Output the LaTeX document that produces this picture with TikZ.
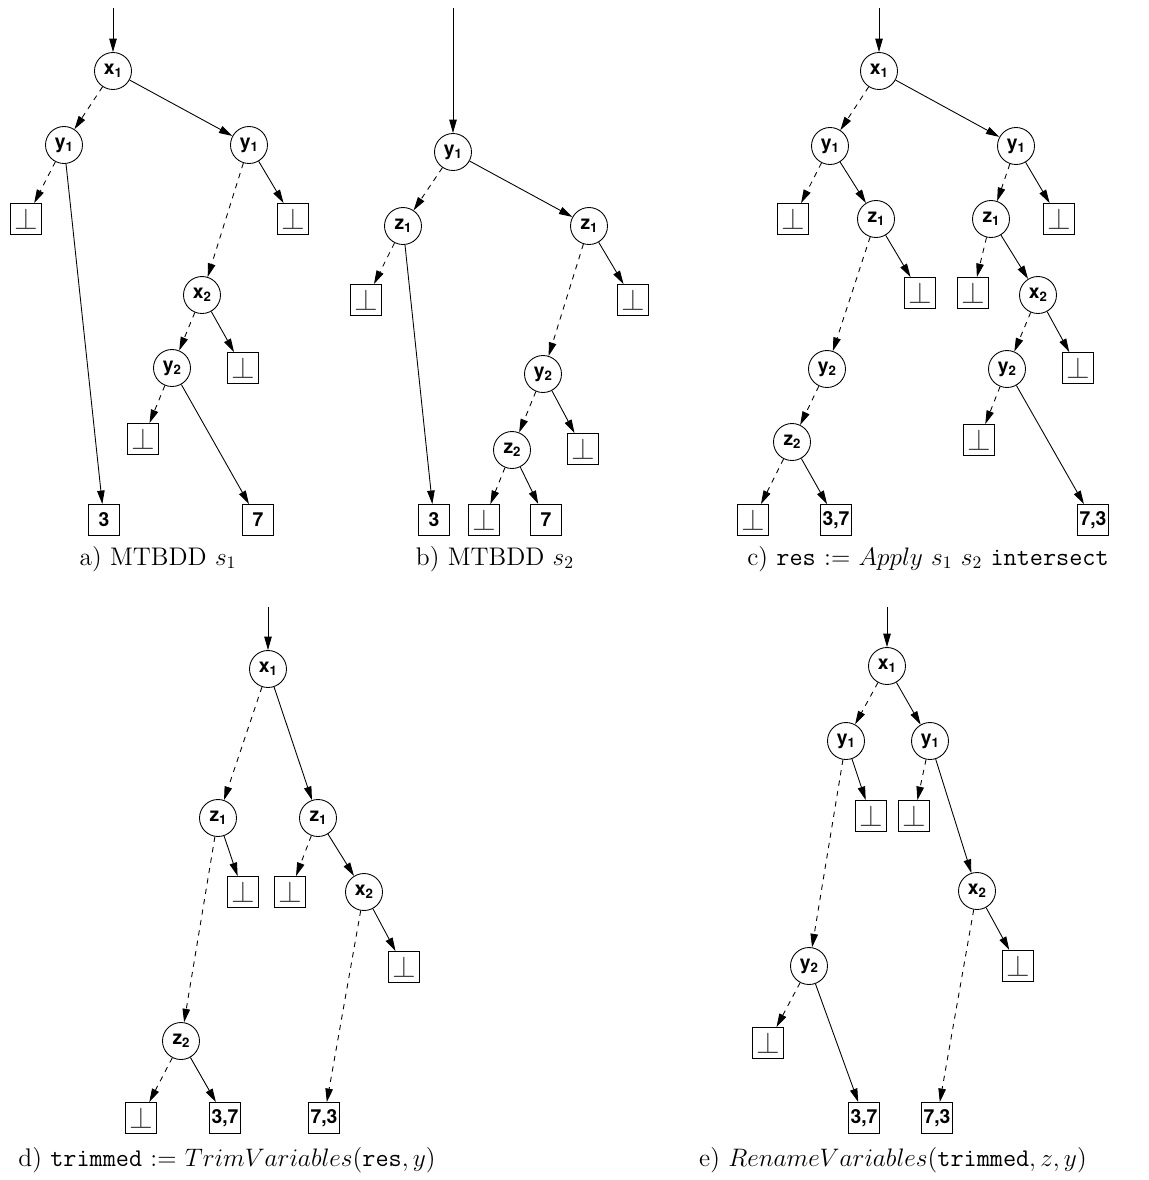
\documentclass[tikz,border=0pt]{standalone}
\usepackage{amsmath}
\usepackage{amssymb}
\usepackage{fontspec}
\newfontfamily\labelfont{TeX Gyre Heros}
\usetikzlibrary{arrows.meta}

\newcommand{\vlab}[2]{{\labelfont\bfseries #1\raisebox{-0.3ex}{\fontsize{7.5}{8}\selectfont #2}}}
\newcommand{\botsym}{{\fontsize{16}{16}\selectfont$\perp$}}

\tikzset{
  var/.style={circle,draw,minimum size=0.74cm,inner sep=0pt,font=\fontsize{11}{12}\selectfont},
  term/.style={rectangle,draw,minimum size=0.62cm,inner sep=0pt,
      font=\labelfont\bfseries\fontsize{11}{12}\selectfont},
  botbox/.style={rectangle,draw,minimum size=0.62cm,inner sep=0pt,text=black!75},
  lo/.style={->,dashed},
  hi/.style={->},
  caption/.style={anchor=base,inner sep=0pt,font=\fontsize{14.5}{17}\selectfont}
}

\begin{document}
\begin{tikzpicture}[x=0.02cm,y=-0.02cm,line width=0.5pt,
    >={Triangle[length=2.7mm,width=1.5mm]}]
  \useasboundingbox (0,0) rectangle (1149,1180);
    %%%%% a) MTBDD s1
    \begin{scope}
      \coordinate (a-top) at (113,8);
      \node[var] (a-x1) at (113,71) {\vlab{x}{1}};
      \node[var] (a-y1l) at (64,145) {\vlab{y}{1}};
      \node[var] (a-y1r) at (249,145) {\vlab{y}{1}};
      \node[botbox] (a-b1) at (26,219) {\botsym};
      \node[botbox] (a-b2) at (293,219) {\botsym};
      \node[var] (a-x2) at (202,295) {\vlab{x}{2}};
      \node[var] (a-y2) at (172,368) {\vlab{y}{2}};
      \node[botbox] (a-b3) at (243,368) {\botsym};
      \node[botbox] (a-b4) at (143,439) {\botsym};
      \node[term] (a-t3) at (104,520) {3};
      \node[term] (a-t7) at (258,520) {7};
      \draw[hi] (a-top) -- (a-x1);
      \draw[lo] (a-x1) -- (a-y1l);
      \draw[hi] (a-x1) -- (a-y1r);
      \draw[lo] (a-y1l) -- (a-b1);
      \draw[hi] (a-y1l) -- (a-t3);
      \draw[lo] (a-y1r) -- (a-x2);
      \draw[hi] (a-y1r) -- (a-b2);
      \draw[lo] (a-x2) -- (a-y2);
      \draw[hi] (a-x2) -- (a-b3);
      \draw[lo] (a-y2) -- (a-b4);
      \draw[hi] (a-y2) -- (a-t7);
      \node[caption] (a-cap) at (158,565) {a) MTBDD $s_1$};
    \end{scope}
    %%%%% b) MTBDD s2
    \begin{scope}
      \coordinate (b-top) at (453,8);
      \node[var] (b-y1) at (453,152) {\vlab{y}{1}};
      \node[var] (b-z1l) at (403,226) {\vlab{z}{1}};
      \node[var] (b-z1r) at (589,226) {\vlab{z}{1}};
      \node[botbox] (b-b1) at (366,300) {\botsym};
      \node[botbox] (b-b2) at (633,300) {\botsym};
      \node[var] (b-y2) at (543,374) {\vlab{y}{2}};
      \node[var] (b-z2) at (512,450) {\vlab{z}{2}};
      \node[botbox] (b-b3) at (583,449) {\botsym};
      \node[term] (b-t3) at (434,520) {3};
      \node[botbox] (b-b4) at (484,520) {\botsym};
      \node[term] (b-t7) at (546,520) {7};
      \draw[hi] (b-top) -- (b-y1);
      \draw[lo] (b-y1) -- (b-z1l);
      \draw[hi] (b-y1) -- (b-z1r);
      \draw[lo] (b-z1l) -- (b-b1);
      \draw[hi] (b-z1l) -- (b-t3);
      \draw[lo] (b-z1r) -- (b-y2);
      \draw[hi] (b-z1r) -- (b-b2);
      \draw[lo] (b-y2) -- (b-z2);
      \draw[hi] (b-y2) -- (b-b3);
      \draw[lo] (b-z2) -- (b-b4);
      \draw[hi] (b-z2) -- (b-t7);
      \node[caption] (b-cap) at (495,565) {b) MTBDD $s_2$};
    \end{scope}
    %%%%% c) Apply
    \begin{scope}
      \coordinate (c-top) at (879,8);
      \node[var] (c-x1) at (879,71) {\vlab{x}{1}};
      \node[var] (c-y1l) at (830,146) {\vlab{y}{1}};
      \node[var] (c-y1r) at (1016,146) {\vlab{y}{1}};
      \node[botbox] (c-b1) at (793,219) {\botsym};
      \node[var] (c-z1l) at (876,219) {\vlab{z}{1}};
      \node[var] (c-z1r) at (991,219) {\vlab{z}{1}};
      \node[botbox] (c-b2) at (1059,219) {\botsym};
      \node[botbox] (c-b3) at (920,293) {\botsym};
      \node[botbox] (c-b4) at (973,293) {\botsym};
      \node[var] (c-x2) at (1038,295) {\vlab{x}{2}};
      \node[var] (c-y2l) at (827,369) {\vlab{y}{2}};
      \node[var] (c-y2r) at (1007,369) {\vlab{y}{2}};
      \node[botbox] (c-b5) at (1078,368) {\botsym};
      \node[var] (c-z2) at (792,442) {\vlab{z}{2}};
      \node[botbox] (c-b7) at (979,440) {\botsym};
      \node[botbox] (c-b6) at (753,520) {\botsym};
      \node[term] (c-t37) at (836,520) {3,7};
      \node[term] (c-t73) at (1093,520) {7,3};
      \draw[hi] (c-top) -- (c-x1);
      \draw[lo] (c-x1) -- (c-y1l);
      \draw[hi] (c-x1) -- (c-y1r);
      \draw[lo] (c-y1l) -- (c-b1);
      \draw[hi] (c-y1l) -- (c-z1l);
      \draw[lo] (c-z1l) -- (c-y2l);
      \draw[hi] (c-z1l) -- (c-b3);
      \draw[lo] (c-y1r) -- (c-z1r);
      \draw[hi] (c-y1r) -- (c-b2);
      \draw[lo] (c-z1r) -- (c-b4);
      \draw[hi] (c-z1r) -- (c-x2);
      \draw[lo] (c-x2) -- (c-y2r);
      \draw[hi] (c-x2) -- (c-b5);
      \draw[lo] (c-y2l) -- (c-z2);
      \draw[lo] (c-z2) -- (c-b6);
      \draw[hi] (c-z2) -- (c-t37);
      \draw[lo] (c-y2r) -- (c-b7);
      \draw[hi] (c-y2r) -- (c-t73);
      \node[caption] (c-cap) at (928,565)
        {c) \texttt{res} $:=$ $Apply$ $s_1$ $s_2$ \texttt{intersect}};
    \end{scope}
    %%%%% d) TrimVariables
    \begin{scope}
      \coordinate (d-top) at (268,607);
      \node[var] (d-x1) at (268,669) {\vlab{x}{1}};
      \node[var] (d-z1l) at (218,818) {\vlab{z}{1}};
      \node[var] (d-z1r) at (318,818) {\vlab{z}{1}};
      \node[botbox] (d-b1) at (243,892) {\botsym};
      \node[botbox] (d-b2) at (290,892) {\botsym};
      \node[var] (d-x2) at (364,892) {\vlab{x}{2}};
      \node[botbox] (d-b3) at (404,967) {\botsym};
      \node[var] (d-z2) at (181,1041) {\vlab{z}{2}};
      \node[botbox] (d-b4) at (141,1118) {\botsym};
      \node[term] (d-t37) at (225,1118) {3,7};
      \node[term] (d-t73) at (324,1118) {7,3};
      \draw[hi] (d-top) -- (d-x1);
      \draw[lo] (d-x1) -- (d-z1l);
      \draw[hi] (d-x1) -- (d-z1r);
      \draw[lo] (d-z1l) -- (d-z2);
      \draw[hi] (d-z1l) -- (d-b1);
      \draw[lo] (d-z1r) -- (d-b2);
      \draw[hi] (d-z1r) -- (d-x2);
      \draw[lo] (d-x2) -- (d-t73);
      \draw[hi] (d-x2) -- (d-b3);
      \draw[lo] (d-z2) -- (d-b4);
      \draw[hi] (d-z2) -- (d-t37);
      \node[caption,anchor=base west] (d-cap) at (18,1166)
        {d) \texttt{trimmed} $:=$ $TrimVariables$(\texttt{res}$, y$)};
    \end{scope}
    %%%%% e) RenameVariables
    \begin{scope}
      \coordinate (e-top) at (887,607);
      \node[var] (e-x1) at (887,666) {\vlab{x}{1}};
      \node[var] (e-y1l) at (846,741) {\vlab{y}{1}};
      \node[var] (e-y1r) at (930,741) {\vlab{y}{1}};
      \node[botbox] (e-b1) at (871,816) {\botsym};
      \node[botbox] (e-b2) at (914,816) {\botsym};
      \node[var] (e-x2) at (977,891) {\vlab{x}{2}};
      \node[botbox] (e-b3) at (1018,966) {\botsym};
      \node[var] (e-y2) at (809,966) {\vlab{y}{2}};
      \node[botbox] (e-b4) at (768,1043) {\botsym};
      \node[term] (e-t37) at (864,1118) {3,7};
      \node[term] (e-t73) at (937,1118) {7,3};
      \draw[hi] (e-top) -- (e-x1);
      \draw[lo] (e-x1) -- (e-y1l);
      \draw[hi] (e-x1) -- (e-y1r);
      \draw[lo] (e-y1l) -- (e-y2);
      \draw[hi] (e-y1l) -- (e-b1);
      \draw[lo] (e-y1r) -- (e-b2);
      \draw[hi] (e-y1r) -- (e-x2);
      \draw[lo] (e-x2) -- (e-t73);
      \draw[hi] (e-x2) -- (e-b3);
      \draw[lo] (e-y2) -- (e-b4);
      \draw[hi] (e-y2) -- (e-t37);
      \node[caption] (e-cap) at (893,1166)
        {e) $RenameVariables$(\texttt{trimmed}$, z, y$)};
    \end{scope}
\end{tikzpicture}
\end{document}
